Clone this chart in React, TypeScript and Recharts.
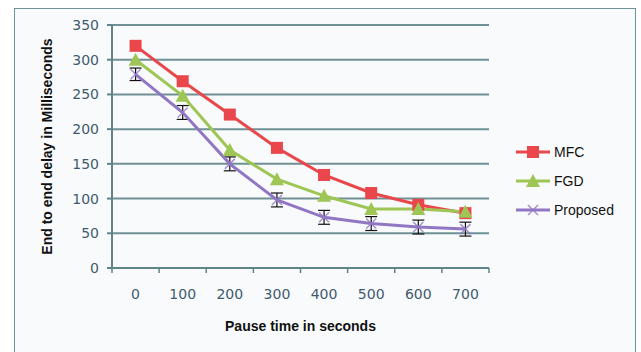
import { LineChart, Line, XAxis, YAxis, CartesianGrid, Legend, ErrorBar } from "recharts"

const pauseTimes = ["0", "100", "200", "300", "400", "500", "600", "700"]
const mfc = [320, 269, 221, 173, 134, 108, 91, 79]
const fgd = [300, 248, 170, 128, 104, 85, 85, 81]
const proposed = [279, 224, 150, 98, 73, 64, 59, 56]
const proposedErr = [9, 10, 10, 10, 10, 10, 10, 10]
const yTicks = [0, 50, 100, 150, 200, 250, 300, 350]

const data = pauseTimes.map((t, i) => ({
  t,
  mfc: mfc[i],
  fgd: fgd[i],
  proposed: proposed[i],
  err: proposedErr[i],
}))

const RED = "#e9474b"
const GREEN = "#9dc655"
const PURPLE = "#9177c3"
const GRID = "#5f8589"
const TICK = "#3f5a70"
const BAND = (489 - 112) / pauseTimes.length

function Square(props: any) {
  const { cx, cy } = props
  if (cx == null || cy == null) return null
  return <rect x={cx - 6} y={cy - 6} width={12} height={12} fill={RED} />
}

function Triangle(props: any) {
  const { cx, cy } = props
  if (cx == null || cy == null) return null
  return <polygon points={`${cx},${cy - 7} ${cx - 7},${cy + 6} ${cx + 7},${cy + 6}`} fill={GREEN} />
}

function Cross(props: any) {
  const { cx, cy } = props
  if (cx == null || cy == null) return null
  return (
    <g stroke={PURPLE} strokeWidth={1.5} opacity={0.8}>
      <line x1={cx - 5} y1={cy - 5} x2={cx + 5} y2={cy + 5} />
      <line x1={cx - 5} y1={cy + 5} x2={cx + 5} y2={cy - 5} />
    </g>
  )
}

function XTick(props: any) {
  const { x, y, payload, index } = props
  const axisY = 268
  return (
    <g>
      <line x1={x - BAND / 2} y1={axisY} x2={x - BAND / 2} y2={axisY + 5} stroke={GRID} strokeWidth={1.5} />
      {index === pauseTimes.length - 1 && (
        <line x1={x + BAND / 2} y1={axisY} x2={x + BAND / 2} y2={axisY + 5} stroke={GRID} strokeWidth={1.5} />
      )}
      <text x={x} y={y} dy={11} textAnchor="middle" fill={TICK} fontSize={14} fontFamily="'DejaVu Sans', sans-serif">
        {payload.value}
      </text>
    </g>
  )
}

const legendItems = [
  { name: "MFC", color: RED, Marker: Square },
  { name: "FGD", color: GREEN, Marker: Triangle },
  { name: "Proposed", color: PURPLE, Marker: Cross },
]

function LegendContent() {
  return (
    <svg width={110} height={90}>
      {legendItems.map((it, i) => {
        const cy = 12 + i * 29
        const M = it.Marker
        return (
          <g key={it.name}>
            <line x1={2} y1={cy} x2={36} y2={cy} stroke={it.color} strokeWidth={3} />
            <M cx={19} cy={cy} />
            <text x={40} y={cy + 5} fontSize={14} fontFamily="'Liberation Sans', Arial, sans-serif" fill="#111">
              {it.name}
            </text>
          </g>
        )
      })}
    </svg>
  )
}

export default function App() {
  return (
    <div style={{ position: "fixed", left: 0, top: 0, width: 641, height: 352, background: "#fff" }}>
      <div
        style={{
          position: "absolute",
          left: 14,
          top: 8,
          width: 622,
          height: 350,
          border: "1.5px solid #6f9498",
          background: "#f9fafb",
          boxSizing: "border-box",
        }}
      />
      <div style={{ position: "absolute", left: 0, top: 0 }}>
        <LineChart width={641} height={352} data={data} margin={{ top: 25, right: 42, bottom: 0, left: 30 }}>
          <CartesianGrid horizontal vertical={false} stroke={GRID} strokeWidth={2} strokeOpacity={0.9} />
          <XAxis
            dataKey="t"
            scale="band"
            height={84}
            tickLine={false}
            axisLine={{ stroke: GRID, strokeWidth: 2 }}
            tick={<XTick />}
            tickMargin={14}
            interval={0}
            label={{
              value: "Pause time in seconds",
              position: "insideBottom",
              offset: 21,
              style: { fontFamily: "'Liberation Sans', Arial, sans-serif", fontWeight: "bold", fontSize: 14, fill: "#111" },
            }}
          />
          <YAxis
            domain={[0, 350]}
            ticks={yTicks}
            width={82}
            tickSize={5}
            tickMargin={8}
            tickLine={{ stroke: GRID, strokeWidth: 2 }}
            axisLine={{ stroke: GRID, strokeWidth: 2 }}
            tick={{ fill: TICK, fontSize: 14, fontFamily: "'DejaVu Sans', sans-serif" }}
            label={{
              value: "End to end delay in Milliseconds",
              angle: -90,
              position: "insideLeft",
              offset: 17,
              style: { textAnchor: "middle", fontFamily: "'Liberation Sans', Arial, sans-serif", fontWeight: "bold", fontSize: 14, fill: "#111" },
            }}
          />
          <Legend
            layout="vertical"
            align="right"
            verticalAlign="top"
            content={<LegendContent />}
            wrapperStyle={{ left: 514, top: 140, width: 110, height: 90 }}
          />
          <Line type="linear" dataKey="mfc" name="MFC" stroke={RED} strokeWidth={3} dot={<Square />} isAnimationActive={false} />
          <Line type="linear" dataKey="fgd" name="FGD" stroke={GREEN} strokeWidth={3} dot={<Triangle />} isAnimationActive={false} />
          <Line type="linear" dataKey="proposed" name="Proposed" stroke={PURPLE} strokeWidth={3} dot={<Cross />} isAnimationActive={false}>
            <ErrorBar dataKey="err" width={6} stroke="#111" strokeWidth={1.2} direction="y" />
          </Line>
        </LineChart>
      </div>
    </div>
  )
}
